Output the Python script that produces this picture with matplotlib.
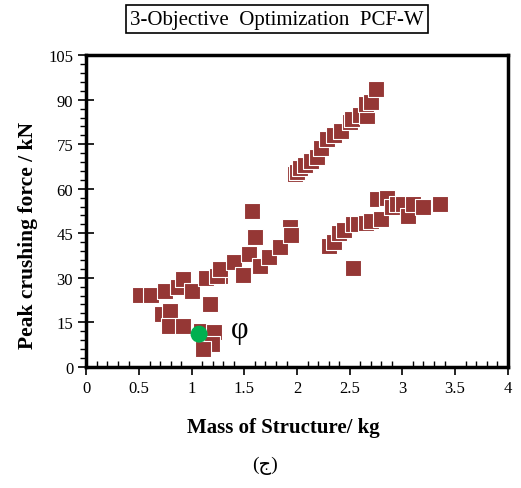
import numpy as np
import matplotlib.pyplot as plt
from matplotlib.ticker import MultipleLocator

# Pareto front points: mass (kg) vs peak crushing force (kN)
mass = [
    # lower-left group
    0.51, 0.61, 0.75, 0.87, 0.92, 1.00, 1.14, 1.27, 1.17, 0.72, 0.79, 0.78,
    0.92, 1.09, 1.21, 1.19, 1.11,
    # middle group
    1.24, 1.27, 1.40, 1.49, 1.49, 1.54, 1.65, 1.73, 1.84, 1.93, 1.94, 1.60, 1.57,
    # upper branch
    1.98, 2.00, 2.03, 2.08, 2.13, 2.19, 2.23, 2.28, 2.35, 2.42, 2.50, 2.52,
    2.60, 2.66, 2.65, 2.70, 2.75,
    # right branch
    2.30, 2.35, 2.40, 2.45, 2.53, 2.58, 2.65, 2.70, 2.80, 2.76, 2.85, 2.90,
    2.95, 3.01, 3.05, 3.10, 3.20, 3.36, 2.53,
]
force = [
    24.2, 24.2, 25.6, 26.8, 29.6, 25.6, 29.8, 30.7, 21.2, 17.8, 18.9, 13.9,
    13.9, 12.2, 11.6, 7.7, 6.0,
    30.7, 33.0, 35.2, 30.7, 30.9, 38.0, 34.1, 37.1, 40.3, 47.0, 44.5, 43.6, 52.6,
    65.0, 65.5, 67.0, 68.1, 69.5, 70.6, 73.7, 76.8, 78.0, 79.6, 82.5, 83.5,
    85.0, 84.4, 88.5, 89.1, 93.7,
    40.8, 42.0, 45.1, 46.0, 48.1, 48.0, 48.3, 49.0, 49.8, 56.5, 57.0, 54.0,
    55.0, 54.9, 50.9, 55.0, 53.8, 54.9, 33.2,
]

# selected design
best_mass = [1.07]
best_force = [11.0]

plt.rcParams["font.family"] = ["Liberation Serif", "DejaVu Sans"]

fig = plt.figure(figsize=(5.21, 4.89), dpi=100)
ax = fig.add_axes([0.1658, 0.2479, 0.8087, 0.6370])

ax.scatter(mass, force, marker="s", s=125, color="#953735",
           edgecolors="white", linewidths=0.8, zorder=3)
ax.scatter(best_mass, best_force, marker="o", s=150, color="#00b050",
           edgecolors="none", zorder=4)
ax.text(1.37, 12.5, "φ", fontsize=22, ha="left", va="center")

ax.set_xlim(0, 4)
ax.set_ylim(0, 105)
ax.xaxis.set_minor_locator(MultipleLocator(0.1))
ax.yaxis.set_major_locator(MultipleLocator(15))
ax.yaxis.set_minor_locator(MultipleLocator(3))
ax.set_xticks(np.arange(0, 4.01, 0.5))
ax.set_xticklabels(["0", "0.5", "1", "1.5", "2", "2.5", "3", "3.5", "4"])

for s in ax.spines.values():
    s.set_linewidth(2.5)
ax.tick_params(axis="x", which="major", direction="out", length=6, width=1.2,
               labelsize=12)
ax.tick_params(axis="x", which="minor", direction="in", length=4, width=1)
ax.tick_params(axis="y", which="major", direction="inout", length=12, width=1.2,
               labelsize=12)
ax.tick_params(axis="y", which="minor", direction="out", length=4, width=1)

ax.set_xlabel("Mass of Structure/ kg", fontsize=15, fontweight="bold", va="center")
ax.set_ylabel("Peak crushing force / kN", fontsize=15.5, fontweight="bold", va="center")
ax.xaxis.set_label_coords(0.467, -0.193)
ax.yaxis.set_label_coords(-0.139, 0.426)

fig.text(0.531, 0.959, "3-Objective  Optimization  PCF-W", fontsize=15,
         ha="center", va="center",
         bbox=dict(boxstyle="square,pad=0.2", facecolor="white",
                   edgecolor="black", linewidth=1.2))
fig.text(0.508, 0.047, "(ج)", fontsize=14, ha="center", va="center")

fig.savefig("out.png", dpi=100)
